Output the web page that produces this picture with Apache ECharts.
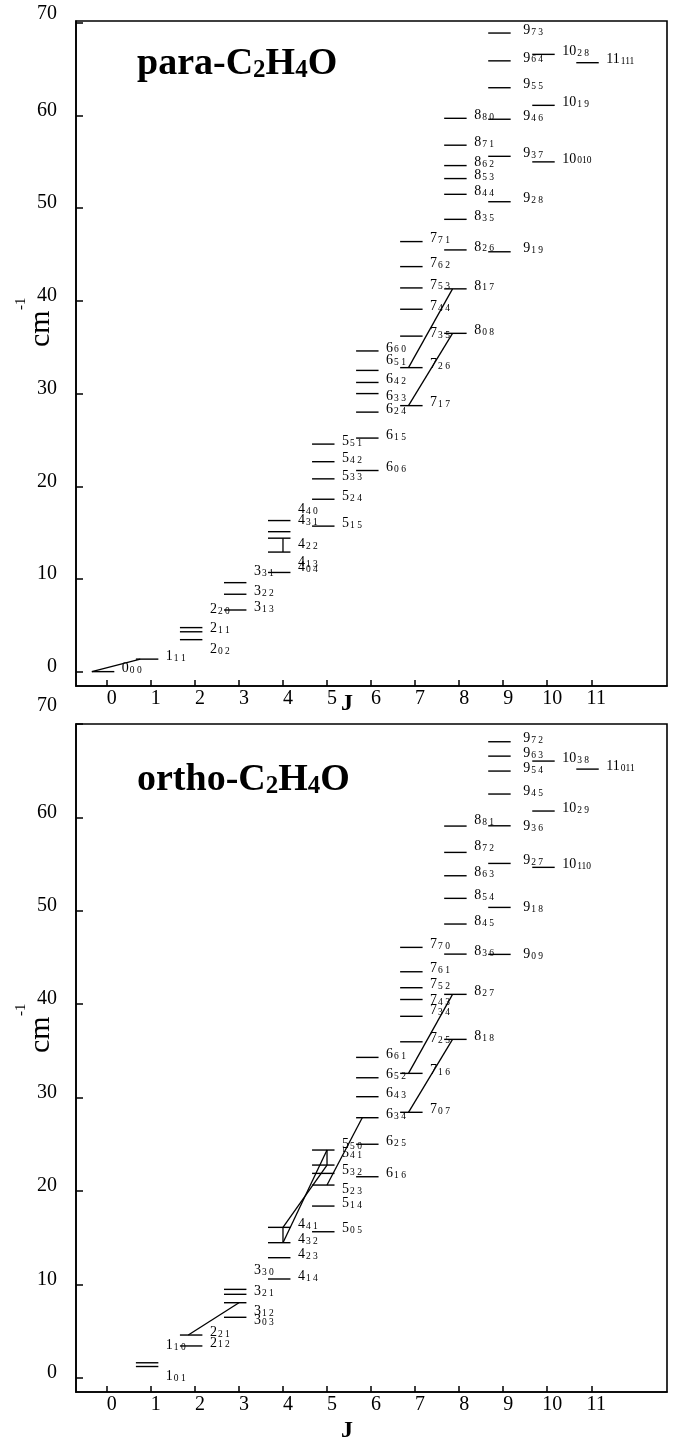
<!DOCTYPE html>
<html>
<head>
<meta charset="utf-8">
<script src="https://cdn.jsdelivr.net/npm/echarts@6/dist/echarts.min.js"></script>
<style>
  html, body { margin: 0; padding: 0; background: #fff; }
  #chart { width: 677px; height: 1441px; }
</style>
</head>
<body>
<div id="chart"></div>
<script>
// energy levels, cm-1 (J, Ka, Kc, E)
const paraJ  = [0, 1, 2, 2, 2, 3, 3, 3, 4, 4, 4, 4, 4, 5, 5, 5, 5, 5, 6, 6, 6, 6, 6, 6, 6, 7, 7, 7, 7, 7, 7, 7, 8, 8, 8, 8, 8, 8, 8, 8, 8, 9, 9, 9, 9, 9, 9, 9, 10, 10, 10, 11];
const paraKa = [0, 1, 0, 1, 2, 1, 2, 3, 0, 1, 2, 3, 4, 1, 2, 3, 4, 5, 0, 1, 2, 3, 4, 5, 6, 1, 2, 3, 4, 5, 6, 7, 0, 1, 2, 3, 4, 5, 6, 7, 8, 1, 2, 3, 4, 5, 6, 7, 0, 1, 2, 1];
const paraKc = [0, 1, 2, 1, 0, 3, 2, 1, 4, 3, 2, 1, 0, 5, 4, 3, 2, 1, 6, 5, 4, 3, 2, 1, 0, 7, 6, 5, 4, 3, 2, 1, 8, 7, 6, 5, 4, 3, 2, 1, 0, 9, 8, 7, 6, 5, 4, 3, 10, 9, 8, 11];
const paraE  = [0, 1.35, 3.45, 4.3, 4.75, 6.65, 8.35, 9.6, 10.7, 12.9, 14.4, 15.1, 16.3,
  15.7, 18.6, 20.8, 22.65, 24.55, 21.7, 25.2, 28.0, 30.0, 31.2, 32.5, 34.6,
  28.7, 32.8, 36.2, 39.1, 41.4, 43.7, 46.4, 36.5, 41.3, 45.5, 48.8, 51.5, 53.2, 54.6, 56.8, 59.7,
  45.3, 50.7, 55.6, 59.6, 63.0, 65.9, 68.9, 55.0, 61.1, 66.6, 65.7];

const orthoJ  = [1, 1, 2, 2, 3, 3, 3, 3, 4, 4, 4, 4, 5, 5, 5, 5, 5, 5, 6, 6, 6, 6, 6, 6, 7, 7, 7, 7, 7, 7, 7, 7, 8, 8, 8, 8, 8, 8, 8, 8, 9, 9, 9, 9, 9, 9, 9, 9, 10, 10, 10, 11];
const orthoKa = [0, 1, 1, 2, 0, 1, 2, 3, 1, 2, 3, 4, 0, 1, 2, 3, 4, 5, 1, 2, 3, 4, 5, 6, 0, 1, 2, 3, 4, 5, 6, 7, 1, 2, 3, 4, 5, 6, 7, 8, 0, 1, 2, 3, 4, 5, 6, 7, 1, 2, 3, 0];
const orthoKc = [1, 0, 2, 1, 3, 2, 1, 0, 4, 3, 2, 1, 5, 4, 3, 2, 1, 0, 6, 5, 4, 3, 2, 1, 7, 6, 5, 4, 3, 2, 1, 0, 8, 7, 6, 5, 4, 3, 2, 1, 9, 8, 7, 6, 5, 4, 3, 2, 10, 9, 8, 11];
const orthoE  = [1.2, 1.6, 3.4, 4.57, 6.47, 8.03, 8.93, 9.46, 10.57, 12.85, 14.46, 16.1,
  15.63, 18.38, 20.63, 21.88, 22.77, 24.38, 21.52, 25.0, 27.84, 30.09, 32.12, 34.3,
  28.42, 32.59, 35.97, 38.7, 40.5, 41.76, 43.47, 46.08, 36.23, 41.05, 45.36, 48.58, 51.33, 53.75, 56.25, 59.07,
  45.33, 50.36, 55.07, 59.1, 62.5, 64.96, 66.56, 68.1, 54.65, 60.68, 66.03, 65.17];

// transitions drawn between levels ("J,Ka,Kc")
const paraLinks  = [['0,0,0', '1,1,1'], ['4,2,2', '4,1,3'], ['7,2,6', '8,1,7'], ['7,1,7', '8,0,8']];
const orthoLinks = [['2,2,1', '3,1,2'], ['4,4,1', '4,3,2'], ['4,3,2', '5,5,0'], ['4,4,1', '5,4,1'],
  ['5,5,0', '5,4,1'], ['5,2,3', '6,3,4'], ['7,1,6', '8,2,7'], ['7,0,7', '8,1,8']];

const jTicks = [0, 1, 2, 3, 4, 5, 6, 7, 8, 9, 10, 11];
const eTicks = [0, 10, 20, 30, 40, 50, 60, 70];

// ---- layout only ----
const FONT = 'Liberation Serif';
const LEFT_END = -0.34, RIGHT_END = 0.17;   // level bar extent around J
const paraLinkDx  = [[-0.34, -0.24], [0, 0], [-0.15, -0.15], [-0.15, -0.15]];
const orthoLinkDx = [[-0.15, 0], [0, 0], [0, 0], [0, 0], [0, 0], [0, -0.2], [-0.15, -0.15], [-0.15, -0.15]];
// label nudges in px [dx, dy]
const paraShift = {
  '2,2,0': [0, -15], '2,0,2': [0, 13], '3,3,1': [0, -8], '4,4,0': [0, -8], '4,3,1': [0, -8],
  '4,2,2': [0, 9], '4,1,3': [0, 13], '4,0,4': [0, -2], '6,5,1': [0, -7], '6,3,3': [0, 6]
};
const orthoShift = {
  '1,1,0': [0, -14], '1,0,1': [0, 13], '3,3,0': [0, -16], '3,1,2': [0, 12], '3,0,3': [0, 6],
  '5,5,0': [0, -3], '5,4,1': [0, -9], '5,2,3': [0, 7], '7,4,3': [0, 4], '7,3,4': [0, -3],
  '9,3,6': [0, 4], '9,1,8': [0, 3], '9,0,9': [0, 3], '8,8,1': [0, -3], '8,7,2': [0, -3]
};

const RICH = {
  m: { fontFamily: FONT, fontSize: 14, lineHeight: 14, verticalAlign: 'bottom', fill: '#000', color: '#000' },
  s: { fontFamily: FONT, fontSize: 9.5, lineHeight: 9.5, verticalAlign: 'bottom', fill: '#000', color: '#000', padding: [0, 0, 0, 1] }
};

function levelSeries(g, J, Ka, Kc, E, shift) {
  return {
    type: 'custom', xAxisIndex: g, yAxisIndex: g, silent: true,
    data: J.map((j, i) => [j, E[i], i]),
    renderItem(params, api) {
      const i = api.value(2);
      const j = api.value(0), e = api.value(1);
      const key = J[i] + ',' + Ka[i] + ',' + Kc[i];
      const sub = Kc[i] >= 10 ? '' + Ka[i] + Kc[i] : Ka[i] + ' ' + Kc[i];
      const d = shift[key] || [0, 0];
      const a = api.coord([j + LEFT_END, e]);
      const b = api.coord([j + RIGHT_END, e]);
      const c = api.coord([j, e]);
      const gap = j === 9 ? 20 : 15;
      return {
        type: 'group',
        children: [
          { type: 'line', shape: { x1: a[0], y1: a[1], x2: b[0], y2: b[1] },
            style: { stroke: '#000', lineWidth: 1.4 } },
          { type: 'text', x: c[0] + gap + d[0], y: c[1] - 3 + d[1],
            style: { text: '{m|' + J[i] + '}{s|' + sub + '}', rich: RICH, align: 'left', verticalAlign: 'middle', fill: '#000' } }
        ]
      };
    }
  };
}

function linkSeries(g, J, Ka, Kc, E, links, dx) {
  const idx = {};
  J.forEach((j, i) => { idx[j + ',' + Ka[i] + ',' + Kc[i]] = i; });
  const data = links.map((l, k) => {
    const p = idx[l[0]], q = idx[l[1]];
    return [J[p] + dx[k][0], E[p], J[q] + dx[k][1], E[q]];
  });
  return {
    type: 'custom', xAxisIndex: g, yAxisIndex: g, silent: true,
    data: data,
    encode: { x: [0, 2], y: [1, 3] },
    renderItem(params, api) {
      const a = api.coord([api.value(0), api.value(1)]);
      const b = api.coord([api.value(2), api.value(3)]);
      return { type: 'line', shape: { x1: a[0], y1: a[1], x2: b[0], y2: b[1] },
        style: { stroke: '#000', lineWidth: 1.3 } };
    }
  };
}

const axisLine = { onZero: false, lineStyle: { color: '#000', width: 1.6 } };
const tickStyle = { color: '#000', width: 1.5 };

function xAxis(g) {
  return {
    gridIndex: g, type: 'value', min: -0.7, max: 12.72,
    axisLine: axisLine, splitLine: { show: false },
    axisTick: { inside: true, length: 6, lineStyle: tickStyle, customValues: jTicks },
    axisLabel: { customValues: jTicks, fontFamily: FONT, fontSize: 20, color: '#000', margin: 3, padding: [0, 0, 0, 10] }
  };
}
// the "70" label sits higher than the others in the original
function yAxis(g, min, max, lift) {
  return {
    gridIndex: g, type: 'value', min: min, max: max,
    axisLine: axisLine, splitLine: { show: false },
    axisTick: { inside: true, length: 7, lineStyle: tickStyle, customValues: eTicks },
    axisLabel: {
      customValues: eTicks, fontFamily: FONT, fontSize: 20, color: '#000', margin: 19, padding: [0, 0, 10, 0],
      formatter: v => (v === 70 ? '{top|70}' : String(v)),
      rich: { top: { fontFamily: FONT, fontSize: 20, color: '#000', padding: [0, 0, lift, 0] } }
    }
  };
}

const TITLE_RICH = {
  t: { fontFamily: FONT, fontSize: 38, fontWeight: 'bold', lineHeight: 42, verticalAlign: 'bottom', fill: '#000' },
  s: { fontFamily: FONT, fontSize: 25, fontWeight: 'bold', lineHeight: 20, verticalAlign: 'bottom', fill: '#000' }
};

function cmLabel(x, y) {
  return {
    type: 'group', x: x, y: y, rotation: Math.PI / 2,
    children: [
      { type: 'text', x: 0, y: 0, style: { text: 'cm', fontFamily: FONT, fontSize: 30, fill: '#000', align: 'left', verticalAlign: 'middle' } },
      { type: 'text', x: 37, y: -20, style: { text: '-1', fontFamily: FONT, fontSize: 15, fill: '#000', align: 'left', verticalAlign: 'middle' } }
    ]
  };
}
function jLabel(x, y) {
  return { type: 'text', x: x, y: y, style: { text: 'J', fontFamily: FONT, fontSize: 24, fontWeight: 'bold', fill: '#000', align: 'center', verticalAlign: 'middle' } };
}

const chart = echarts.init(document.getElementById('chart'));
chart.setOption({
  animation: false,
  backgroundColor: '#fff',
  grid: [
    { left: 76, right: 10, top: 21, height: 665, show: true, borderColor: '#000', borderWidth: 1.6 },
    { left: 76, right: 10, top: 724, height: 668, show: true, borderColor: '#000', borderWidth: 1.6 }
  ],
  xAxis: [xAxis(0), xAxis(1)],
  yAxis: [yAxis(0, -1.55, 70.2, 8), yAxis(1, -1.53, 70, 26)],
  series: [
    levelSeries(0, paraJ, paraKa, paraKc, paraE, paraShift),
    linkSeries(0, paraJ, paraKa, paraKc, paraE, paraLinks, paraLinkDx),
    levelSeries(1, orthoJ, orthoKa, orthoKc, orthoE, orthoShift),
    linkSeries(1, orthoJ, orthoKa, orthoKc, orthoE, orthoLinks, orthoLinkDx)
  ],
  graphic: [
    { type: 'text', x: 137, y: 62, style: { text: '{t|para-C}{s|2}{t|H}{s|4}{t|O}', rich: TITLE_RICH, verticalAlign: 'middle' } },
    { type: 'text', x: 137, y: 778, style: { text: '{t|ortho-C}{s|2}{t|H}{s|4}{t|O}', rich: TITLE_RICH, verticalAlign: 'middle' } },
    cmLabel(41, 347),
    cmLabel(41, 1053),
    jLabel(347, 704),
    jLabel(347, 1431)
  ]
});
</script>
</body>
</html>
